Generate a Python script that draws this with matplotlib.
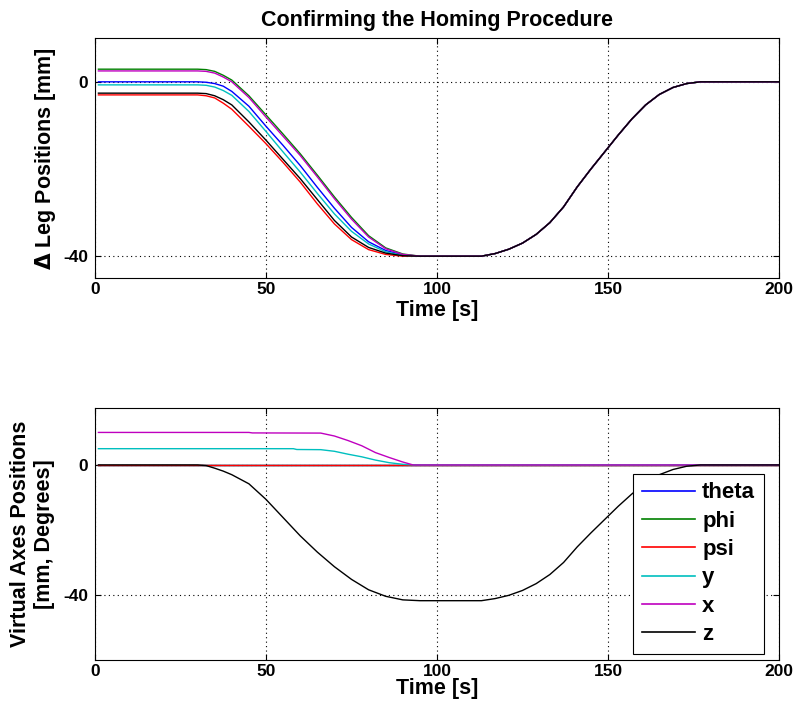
import numpy as np
import matplotlib
matplotlib.use('Agg')
import matplotlib.pyplot as plt

plt.rcParams['font.family'] = ['Liberation Sans', 'DejaVu Sans']
plt.rcParams['font.weight'] = 'bold'
plt.rcParams['axes.unicode_minus'] = False

# ---- top plot: leg position changes ----
t_legs = [1, 30, 32.5, 35, 37.5, 40, 45, 50, 55, 60, 65, 70, 75, 80, 85, 90, 95,
          100, 113, 117, 121, 125, 129, 133, 137, 141, 145, 149, 153,
          157, 161, 165, 169, 173, 177, 200]
# shared return path after all legs reach -40 (t = 95 onwards)
leg_return = [-40, -40, -40, -39.4, -38.4, -37.0, -35.0, -32.3, -28.7, -24.1,
              -20.0, -16.1, -12.2, -8.5, -5.3, -2.9, -1.3, -0.4, 0, 0]
leg_blue = [0, 0, -0.1, -0.4, -1.0, -2.2, -5.6, -10.2, -14.6, -19.2, -24.2, -29.0, -33.4, -36.7, -38.7, -39.7]
leg_green = [2.9, 2.9, 2.8, 2.4, 1.5, 0.4, -3.2, -7.6, -12.0, -16.5, -21.4, -26.4, -31.1, -35.3, -38.1, -39.5]
leg_red = [-3.0, -3.0, -3.2, -3.7, -4.9, -6.3, -10.2, -14.2, -18.5, -23.0, -28.0, -32.6, -36.2, -38.5, -39.6, -40]
leg_cyan = [-0.7, -0.7, -0.8, -1.2, -2.0, -3.1, -6.8, -11.4, -16.1, -20.7, -25.6, -30.3, -34.3, -37.2, -39.0, -39.8]
leg_magenta = [2.5, 2.5, 2.4, 2.0, 1.1, 0.0, -3.6, -8.1, -12.5, -16.9, -21.8, -26.8, -31.5, -35.6, -38.3, -39.6]
leg_black = [-2.6, -2.6, -2.7, -3.2, -4.1, -5.3, -9.2, -13.4, -17.8, -22.2, -27.0, -31.8, -35.6, -38.0, -39.3, -39.9]

# ---- bottom plot: virtual axes ----
t_flat = [1, 200]
theta = [0, 0]
phi = [0, 0]
psi = [0, 0]
t_y = [1, 58, 59, 66, 70, 74, 78, 82, 86, 90, 93, 200]
y_pos = [5.0, 5.0, 4.75, 4.7, 4.2, 3.3, 2.5, 1.5, 0.7, 0.2, 0, 0]
t_x = [1, 45, 46, 66, 70, 74, 78, 82, 86, 90, 93, 200]
x_pos = [10, 10, 9.85, 9.8, 8.9, 7.5, 5.9, 3.8, 2.3, 0.9, 0, 0]
t_z = [1, 30, 32.5, 35, 37.5, 40, 45, 50, 55, 60, 65, 70, 75, 80, 85, 90, 95, 100,
       113, 117, 121, 125, 129, 133, 137, 141, 145, 149, 153, 157, 161,
       165, 169, 173, 177, 200]
z_pos = [0, 0, -0.2, -1.0, -1.9, -3.0, -5.8, -10.6, -16.2, -21.8, -26.8, -31.3, -35.2,
         -38.4, -40.4, -41.5, -41.75, -41.75, -41.75, -41.1, -40.1, -38.6,
         -36.5, -33.7, -30.0, -25.2, -20.9, -16.8, -12.7, -8.9, -5.5, -3.0,
         -1.4, -0.4, 0, 0]

labels = ['theta', 'phi', 'psi', 'y', 'x', 'z']
colors = ['#0000ff', '#008000', '#ff0000', '#00bfbf', '#bf00bf', '#000000']

fig = plt.figure(figsize=(7.95, 7.12), dpi=100)
ax1 = fig.add_axes([0.1195, 0.6096, 0.8604, 0.3367])
ax2 = fig.add_axes([0.1195, 0.0730, 0.8604, 0.3539])

legs = [leg_blue, leg_green, leg_red, leg_cyan, leg_magenta, leg_black]
for vals, c in zip(legs, colors):
    ax1.plot(t_legs, list(vals) + leg_return, color=c, lw=1.0)

series = [(t_flat, theta), (t_flat, phi), (t_flat, psi), (t_y, y_pos), (t_x, x_pos), (t_z, z_pos)]
for (tt, vv), c, lab in zip(series, colors, labels):
    ax2.plot(tt, vv, color=c, lw=1.0, label=lab)


def style(ax, ylim):
    ax.set_xlim(0, 200)
    ax.set_ylim(*ylim)
    ax.set_xticks([0, 50, 100, 150, 200])
    ax.set_yticks([-40, 0])
    ax.grid(True, color='k', linestyle=(0, (1, 3)), lw=0.8)
    ax.tick_params(direction='in', top=True, right=True, length=4, labelsize=12.5, width=0.8)
    ax.tick_params(axis='x', pad=3)
    ax.tick_params(axis='y', pad=5)
    for lab in ax.get_xticklabels() + ax.get_yticklabels():
        lab.set_fontweight('bold')
    for s in ax.spines.values():
        s.set_linewidth(0.8)


style(ax1, (-45, 10))
style(ax2, (-60, 17.5))

ax1.set_xlabel('Time [s]', fontsize=15.5, fontweight='bold', labelpad=2)
ax2.set_xlabel('Time [s]', fontsize=15.5, fontweight='bold', labelpad=-1)
ax1.set_title('Confirming the Homing Procedure', fontsize=15.5, fontweight='bold', pad=9)
ax1.set_ylabel(r'$\Delta$ Leg Positions [mm]', fontsize=15.5, fontweight='bold', labelpad=4)
ax2.set_ylabel('Virtual Axes Positions\n[mm, Degrees]', fontsize=15.5, fontweight='bold',
               labelpad=6, linespacing=1.2)

leg = ax2.legend(loc='lower right', bbox_to_anchor=(0.978, 0.024), borderaxespad=0,
                 fancybox=False, framealpha=1, edgecolor='k', handlelength=2.4,
                 handletextpad=0.3, labelspacing=0.33, borderpad=0.4,
                 prop={'size': 16, 'weight': 'bold'})
leg.get_frame().set_linewidth(0.8)
for h in leg.get_lines():
    h.set_linewidth(1.2)

fig.savefig('out.png', dpi=100)
